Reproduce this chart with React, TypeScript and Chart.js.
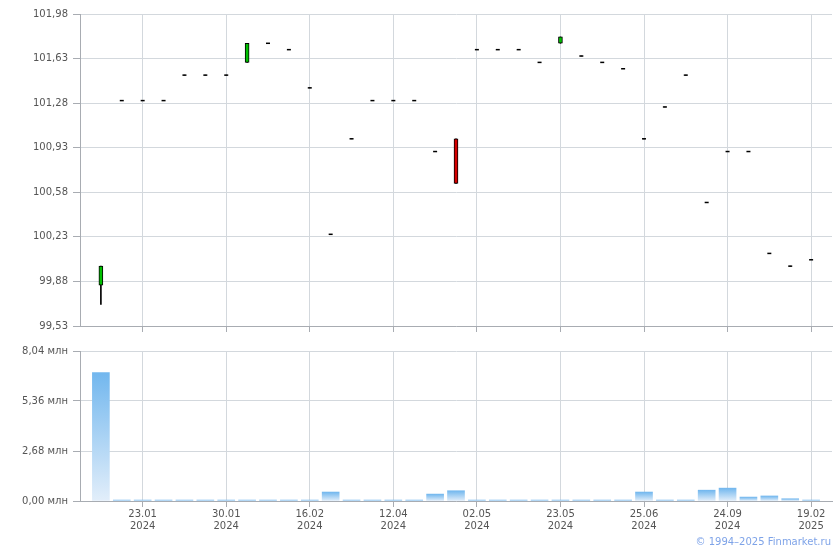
import React, { useEffect, useRef } from "react";
import { Chart, registerables } from "chart.js";

Chart.register(...registerables);

const dates = ["", "", "23.01", "", "", "", "30.01", "", "", "", "16.02", "", "", "", "12.04", "", "", "", "02.05", "", "", "", "23.05", "", "", "", "25.06", "", "", "", "24.09", "", "", "", "19.02"];
const years = ["", "", "2024", "", "", "", "2024", "", "", "", "2024", "", "", "", "2024", "", "", "", "2024", "", "", "", "2024", "", "", "", "2024", "", "", "", "2024", "", "", "", "2025"];
const tickIndexes = [2, 6, 10, 14, 18, 22, 26, 30, 34];

const opens = [99.85, 101.3, 101.3, 101.3, 101.5, 101.5, 101.5, 101.6, 101.75, 101.7, 101.4, 100.25, 101.0, 101.3, 101.3, 101.3, 100.9, 101.0, 101.7, 101.7, 101.7, 101.6, 101.75, 101.65, 101.6, 101.55, 101.0, 101.25, 101.5, 100.5, 100.9, 100.9, 100.1, 100.0, 100.05];
const closes = [100.0, 101.3, 101.3, 101.3, 101.5, 101.5, 101.5, 101.75, 101.75, 101.7, 101.4, 100.25, 101.0, 101.3, 101.3, 101.3, 100.9, 100.65, 101.7, 101.7, 101.7, 101.6, 101.8, 101.65, 101.6, 101.55, 101.0, 101.25, 101.5, 100.5, 100.9, 100.9, 100.1, 100.0, 100.05];
const highs = [100.0, 101.3, 101.3, 101.3, 101.5, 101.5, 101.5, 101.75, 101.75, 101.7, 101.4, 100.25, 101.0, 101.3, 101.3, 101.3, 100.9, 101.0, 101.7, 101.7, 101.7, 101.6, 101.8, 101.65, 101.6, 101.55, 101.0, 101.25, 101.5, 100.5, 100.9, 100.9, 100.1, 100.0, 100.05];
const lows = [99.7, 101.3, 101.3, 101.3, 101.5, 101.5, 101.5, 101.6, 101.75, 101.7, 101.4, 100.25, 101.0, 101.3, 101.3, 101.3, 100.9, 100.65, 101.7, 101.7, 101.7, 101.6, 101.75, 101.65, 101.6, 101.55, 101.0, 101.25, 101.5, 100.5, 100.9, 100.9, 100.1, 100.0, 100.05];
const volumes = [6.89, 0.05, 0.05, 0.05, 0.05, 0.05, 0.05, 0.05, 0.05, 0.05, 0.05, 0.48, 0.05, 0.05, 0.05, 0.05, 0.37, 0.55, 0.05, 0.05, 0.05, 0.05, 0.05, 0.05, 0.05, 0.05, 0.48, 0.05, 0.05, 0.58, 0.69, 0.21, 0.27, 0.12, 0.05];

const priceTicks = [99.53, 99.88, 100.23, 100.58, 100.93, 101.28, 101.63, 101.98];
const volumeTicks = [0, 2.68, 5.36, 8.04];

const FONT = "'DejaVu Sans', Verdana, sans-serif";
const GRID = "#d3d8dd";
const AXIS = "#a8acb2";
const TEXT = "#555555";

function xScaleBase(showLabels: boolean, height: number) {
  return {
    type: "linear" as const,
    min: -1,
    max: 35,
    offset: false,
    afterBuildTicks: (scale: any) => {
      scale.ticks = tickIndexes.map((v) => ({ value: v }));
    },
    afterFit: (scale: any) => {
      scale.height = height;
    },
    grid: { color: GRID, tickColor: AXIS, tickLength: 6, offset: false, drawTicks: true },
    border: { color: AXIS, width: 1 },
    ticks: {
      display: showLabels,
      autoSkip: false,
      maxRotation: 0,
      color: TEXT,
      padding: 1,
      font: { family: FONT, size: 10 },
      callback: (v: any) => {
        const i = Math.round(Number(v));
        return [dates[i] ?? "", years[i] ?? ""];
      },
    },
  };
}

function PriceChart() {
  const ref = useRef<HTMLCanvasElement>(null);
  useEffect(() => {
    const bodies = opens
      .map((o, i) => ({ x: i, y: [o, closes[i]], up: closes[i] >= o }))
      .filter((d) => d.y[0] !== d.y[1]);
    const dojis = opens
      .map((o, i) => ({ x: i, y: o }))
      .filter((d, i) => opens[i] === closes[i]);
    const wicks = lows.map((l, i) => ({ x: i, y: [l, highs[i]] }));
    const chart = new Chart(ref.current!, {
      type: "bar",
      data: {
        datasets: [
          {
            type: "bar",
            data: bodies as any,
            backgroundColor: bodies.map((b) => (b.up ? "#00c000" : "#d40000")),
            borderColor: "#000000",
            borderWidth: 1,
            borderSkipped: false,
            barThickness: 4,
            grouped: false,
            order: 0,
          } as any,
          {
            type: "bar",
            data: wicks as any,
            backgroundColor: "#000000",
            borderWidth: 0,
            barThickness: 1,
            grouped: false,
            order: 2,
          } as any,
          {
            type: "line",
            data: dojis as any,
            showLine: false,
            pointStyle: "line",
            pointRadius: 2,
            pointBorderWidth: 1.5,
            borderColor: "#000000",
            backgroundColor: "#000000",
            order: 1,
          } as any,
        ],
      },
      options: {
        animation: false,
        responsive: false,
        maintainAspectRatio: false,
        layout: { padding: { left: 0, right: 8, top: 14, bottom: 0 } },
        plugins: { legend: { display: false }, tooltip: { enabled: false } },
        scales: {
          x: xScaleBase(false, 14) as any,
          y: {
            type: "linear",
            min: 99.53,
            max: 101.98,
            afterBuildTicks: (scale: any) => {
              scale.ticks = priceTicks.map((v) => ({ value: v }));
            },
            afterFit: (scale: any) => {
              scale.width = 80;
            },
            grid: { color: GRID, tickColor: AXIS, tickLength: 7 },
            border: { color: AXIS, width: 1 },
            ticks: {
              color: TEXT,
              padding: 5,
              font: { family: FONT, size: 10 },
              callback: (v: any) => Number(v).toFixed(2).replace(".", ","),
            },
          },
        },
      },
    });
    return () => chart.destroy();
  }, []);
  return <canvas ref={ref} width={840} height={340} style={{ position: "absolute", left: 0, top: 0, width: 840, height: 340 }} />;
}

function VolumeChart() {
  const ref = useRef<HTMLCanvasElement>(null);
  useEffect(() => {
    const chart = new Chart(ref.current!, {
      type: "bar",
      data: {
        datasets: [
          {
            type: "bar",
            data: volumes.map((v, i) => ({ x: i, y: v })) as any,
            backgroundColor: (ctx: any) => {
              const c = ctx.chart;
              if (!c.chartArea || !c.scales.y) return "#8fc4f0";
              const v = ctx.raw ? ctx.raw.y : 0;
              const top = c.scales.y.getPixelForValue(v);
              const bottom = c.scales.y.getPixelForValue(0);
              const g = c.ctx.createLinearGradient(0, top, 0, Math.max(bottom, top + 1));
              g.addColorStop(0, "#72b7ee");
              g.addColorStop(1, "#e2eefa");
              return g;
            },
            borderWidth: 0,
            barThickness: 17,
            grouped: false,
          } as any,
        ],
      },
      options: {
        animation: false,
        responsive: false,
        maintainAspectRatio: false,
        layout: { padding: { left: 0, right: 8, top: 9, bottom: 0 } },
        plugins: { legend: { display: false }, tooltip: { enabled: false } },
        scales: {
          x: xScaleBase(true, 49) as any,
          y: {
            type: "linear",
            min: 0,
            max: 8.04,
            afterBuildTicks: (scale: any) => {
              scale.ticks = volumeTicks.map((v) => ({ value: v }));
            },
            afterFit: (scale: any) => {
              scale.width = 80;
            },
            grid: { color: GRID, tickColor: AXIS, tickLength: 7 },
            border: { color: AXIS, width: 1 },
            ticks: {
              color: TEXT,
              padding: 5,
              font: { family: FONT, size: 10 },
              callback: (v: any) => Number(v).toFixed(2).replace(".", ",") + " млн",
            },
          },
        },
      },
    });
    return () => chart.destroy();
  }, []);
  return <canvas ref={ref} width={840} height={210} style={{ position: "absolute", left: 0, top: 340, width: 840, height: 210 }} />;
}

export default function App() {
  return (
    <div style={{ position: "absolute", left: 0, top: 0, width: 840, height: 550, background: "#ffffff", overflow: "hidden" }}>
      <PriceChart />
      <VolumeChart />
      <div
        style={{
          position: "absolute",
          right: 9,
          top: 535,
          fontFamily: FONT,
          fontSize: 10,
          color: "#7ea3e8",
          whiteSpace: "nowrap",
          lineHeight: "14px",
        }}
      >
        © 1994–2025 Finmarket.ru
      </div>
    </div>
  );
}
